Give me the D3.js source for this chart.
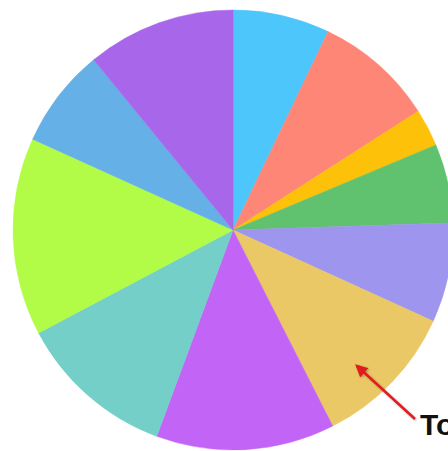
<!DOCTYPE html>
<html>
<head>
<meta charset="utf-8">
<script src="https://cdn.jsdelivr.net/npm/d3@7"></script>
<style>
  html, body { margin: 0; padding: 0; background: #fff; overflow: hidden; }
  svg { display: block; }
</style>
</head>
<body>
<svg id="chart" width="448" height="451"></svg>
<script>
const categories = ["A", "B", "C", "D", "E", "F", "G", "H", "I", "J", "K"];
const values = [7.1, 8.8, 2.75, 5.8, 7.3, 10.7, 13.1, 11.6, 14.5, 7.3, 10.9];
const colors = ["#4DC6FC", "#FD8677", "#FDC10A", "#60C26E", "#9E95EE", "#EAC865",
                "#C265F7", "#73CFC7", "#B2FC48", "#64B0E7", "#A866EA"];
const annotationText = "Total";

const svg = d3.select("#chart");
const cx = 233, cy = 230, r = 220;

const pie = d3.pie().sort(null).value(d => d.v);
const arc = d3.arc().innerRadius(0).outerRadius(r);
const data = categories.map((c, i) => ({ c, v: values[i], col: colors[i] }));

const g = svg.append("g").attr("transform", `translate(${cx},${cy})`);
g.selectAll("path").data(pie(data)).join("path")
  .attr("d", arc)
  .attr("fill", d => d.data.col)
  .attr("stroke", d => d.data.col)
  .attr("stroke-width", 0.5);

// annotation arrow
const defs = svg.append("defs");
defs.append("marker")
  .attr("id", "ah").attr("viewBox", "0 0 10 10")
  .attr("refX", 8).attr("refY", 5)
  .attr("markerWidth", 5).attr("markerHeight", 5)
  .attr("orient", "auto-start-reverse")
  .append("path").attr("d", "M0,0 L10,5 L0,10 z").attr("fill", "#E01B1B");
defs.append("filter").attr("id", "sh")
  .append("feDropShadow").attr("dx", 1).attr("dy", 1).attr("stdDeviation", 1.2)
  .attr("flood-color", "#000").attr("flood-opacity", 0.3);

svg.append("line")
  .attr("x1", 415).attr("y1", 419)
  .attr("x2", 357).attr("y2", 366)
  .attr("stroke", "#E01B1B").attr("stroke-width", 2.5)
  .attr("marker-end", "url(#ah)")
  .attr("filter", "url(#sh)");

svg.append("text")
  .attr("x", 420).attr("y", 435)
  .attr("font-family", "Liberation Sans, Arial, sans-serif")
  .attr("font-weight", "bold").attr("font-size", 30)
  .attr("fill", "#111")
  .text(annotationText);
</script>
</body>
</html>
